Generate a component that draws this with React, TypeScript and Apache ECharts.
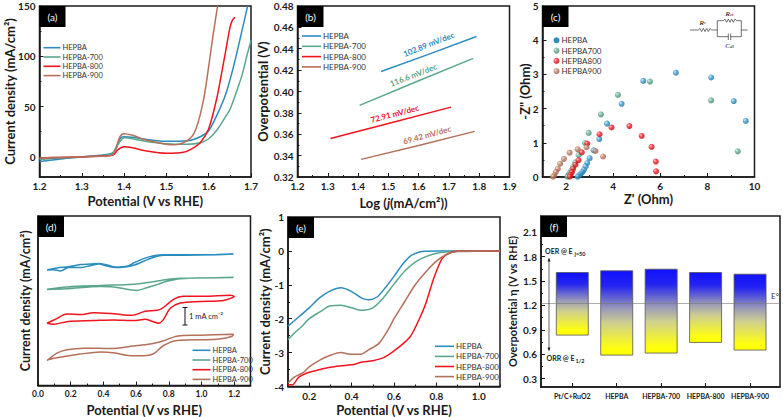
import React, { useEffect, useRef } from "react";
import * as echarts from "echarts";

const FONT = "Lato";
const BLUE = "#2b8cbe";
const GREEN = "#5aa78e";
const RED = "#f0141e";
const BROWN = "#b5705a";
const INK = "#1a1a1a";

const legendNames = ["HEPBA", "HEPBA-700", "HEPBA-800", "HEPBA-900"];
const legendNamesC = ["HEPBA", "HEPBA700", "HEPBA800", "HEPBA900"];
const colors = [BLUE, GREEN, RED, BROWN];

const oerHepba = [[1.2,-4.5],[1.25,-2],[1.3,0],[1.35,2],[1.37,3.5],[1.38,7],[1.39,18],[1.4,20],[1.42,19.5],[1.45,17.5],[1.5,15.5],[1.55,16],[1.58,20],[1.6,26],[1.62,42],[1.64,62],[1.66,92],[1.68,128],[1.692,150]];
const oer700 = [[1.2,-2.5],[1.25,-1],[1.3,0],[1.35,1.5],[1.37,2.5],[1.385,12],[1.4,19],[1.42,18],[1.45,15.5],[1.5,13],[1.55,12.5],[1.58,14],[1.6,18],[1.62,27],[1.64,40],[1.65,47],[1.66,58],[1.67,70],[1.68,83],[1.69,100],[1.7,116]];
const oer800 = [[1.2,-1],[1.25,-0.5],[1.3,0],[1.35,0.8],[1.375,2],[1.385,7],[1.4,10],[1.42,9],[1.45,6],[1.5,3.5],[1.54,4.5],[1.56,8],[1.58,14],[1.6,28],[1.62,60],[1.63,82],[1.64,105],[1.65,128],[1.655,135],[1.662,139]];
const oer900 = [[1.2,-1],[1.3,0],[1.35,0.8],[1.37,1.5],[1.38,8],[1.39,20],[1.4,23],[1.42,21.5],[1.45,17],[1.5,12.5],[1.52,12],[1.54,14],[1.56,20],[1.57,28],[1.58,42],[1.59,62],[1.6,90],[1.61,120],[1.621,150]];

const tafelHepba = [[1.476,0.4187],[1.63,0.4345],[1.791,0.4514]];
const tafel700 = [[1.405,0.387],[1.6,0.41],[1.78,0.431]];
const tafel800 = [[1.309,0.356],[1.5,0.37],[1.707,0.3854]];
const tafel900 = [[1.41,0.3365],[1.6,0.3495],[1.785,0.3627]];

const eisHepba = [[9.63,1.64],[9.12,2.22],[8.16,2.91],[6.66,3.05],[5.28,2.81],[4.36,2.14],[3.74,1.56],[3.41,1.11],[3.17,0.78],[3.0,0.55],[2.9,0.41],[2.83,0.31],[2.76,0.21],[2.69,0.14],[2.62,0.09],[2.55,0.05],[2.49,0.01]];
const eis700 = [[9.29,0.75],[8.16,2.24],[5.56,2.79],[4.2,2.4],[3.48,1.83],[2.96,1.29],[2.81,0.99],[2.53,0.64],[2.39,0.43],[2.29,0.29],[2.22,0.19],[2.16,0.12],[2.1,0.05],[2.06,0.01]];
const eis800 = [[5.82,0.165],[5.81,0.45],[5.63,0.88],[5.21,1.2],[4.69,1.49],[3.93,1.45],[3.42,1.25],[2.9,0.98],[2.67,0.72],[2.53,0.49],[2.4,0.36],[2.3,0.24],[2.25,0.14],[2.19,0.06],[2.16,0.01]];
const eis900 = [[3.57,0.6],[3.25,0.76],[2.87,0.87],[2.49,0.81],[2.15,0.71],[1.91,0.53],[1.75,0.39],[1.65,0.24],[1.57,0.15],[1.5,0.05],[1.45,0.01]];

const cvHepba = [[0.055,6.58],[0.116,6.7],[0.187,6.77],[0.259,6.89],[0.32,6.92],[0.371,6.96],[0.422,6.87],[0.473,6.75],[0.544,6.79],[0.585,6.98],[0.646,7.23],[0.707,7.4],[0.768,7.45],[0.89,7.45],[1.094,7.47],[1.196,7.49],[1.094,7.45],[0.89,7.43],[0.768,7.42],[0.717,7.34],[0.646,7.08],[0.585,6.85],[0.544,6.77],[0.473,6.72],[0.422,6.81],[0.371,6.92],[0.32,6.83],[0.259,6.72],[0.187,6.72],[0.137,6.53],[0.096,6.6],[0.055,6.58]];
const cv700 = [[0.055,5.49],[0.177,5.62],[0.381,5.7],[0.585,5.77],[0.687,5.89],[0.789,6.04],[0.87,6.11],[1.196,6.15],[0.87,6.09],[0.789,5.94],[0.727,5.75],[0.666,5.57],[0.605,5.42],[0.544,5.49],[0.463,5.62],[0.381,5.64],[0.177,5.51],[0.055,5.47]];
const cv800 = [[0.055,3.55],[0.106,3.77],[0.177,4.08],[0.259,4.04],[0.34,4.15],[0.463,4.09],[0.575,4.0],[0.656,4.23],[0.748,4.34],[0.829,4.91],[0.89,5.08],[1.033,5.09],[1.176,5.15],[1.2,5.08],[1.135,4.85],[0.992,4.79],[0.87,4.7],[0.809,4.4],[0.768,3.77],[0.738,3.55],[0.697,3.66],[0.656,3.77],[0.585,3.7],[0.463,3.74],[0.34,3.7],[0.177,3.64],[0.096,3.49],[0.055,3.55]];
const cv900 = [[0.055,1.42],[0.116,1.85],[0.177,2.04],[0.279,2.13],[0.442,2.11],[0.585,2.25],[0.687,2.36],[0.768,2.55],[0.85,2.81],[0.992,2.87],[1.196,2.92],[1.186,2.79],[1.094,2.64],[0.85,2.57],[0.768,2.28],[0.707,1.81],[0.646,1.7],[0.564,1.7],[0.473,1.85],[0.381,1.91],[0.259,1.79],[0.116,1.58],[0.055,1.45]];

const orrHepba = [[0.1,-2.22],[0.15,-1.95],[0.2,-1.68],[0.25,-1.38],[0.3,-1.18],[0.35,-1.09],[0.4,-1.2],[0.45,-1.4],[0.48,-1.44],[0.52,-1.36],[0.56,-1.08],[0.6,-0.75],[0.64,-0.4],[0.68,-0.14],[0.72,-0.03],[0.76,-0.01],[0.8,0],[1.1,0]];
const orr700 = [[0.1,-2.62],[0.13,-2.42],[0.17,-2.2],[0.2,-2.0],[0.25,-1.8],[0.3,-1.62],[0.35,-1.6],[0.4,-1.68],[0.45,-1.75],[0.5,-1.68],[0.55,-1.38],[0.6,-0.98],[0.65,-0.6],[0.7,-0.33],[0.75,-0.17],[0.8,-0.07],[0.85,-0.03],[0.9,-0.01],[1.1,0]];
const orr800 = [[0.1,-3.95],[0.12,-3.95],[0.15,-3.73],[0.2,-3.58],[0.25,-3.5],[0.3,-3.43],[0.35,-3.39],[0.4,-3.36],[0.45,-3.28],[0.5,-3.24],[0.55,-3.15],[0.6,-2.95],[0.65,-2.7],[0.68,-2.5],[0.72,-2.0],[0.75,-1.55],[0.78,-0.95],[0.8,-0.6],[0.83,-0.2],[0.87,-0.04],[0.9,-0.01],[1.1,0]];
const orr900 = [[0.1,-3.9],[0.13,-3.72],[0.17,-3.6],[0.2,-3.42],[0.25,-3.22],[0.3,-3.08],[0.35,-3.0],[0.37,-3.02],[0.4,-3.05],[0.44,-3.05],[0.48,-2.92],[0.53,-2.72],[0.57,-2.35],[0.6,-2.0],[0.65,-1.5],[0.7,-1.0],[0.75,-0.62],[0.8,-0.3],[0.85,-0.1],[0.9,-0.02],[1.1,0]];

const catalysts = ["Pt/C+RuO2", "HEPBA", "HEPBA-700", "HEPBA-800", "HEPBA-900"];
const catalystPositions = [1, 2, 3, 4, 5];
const oerPotential = [1.605, 1.626, 1.646, 1.605, 1.585];
const orrPotential = [0.836, 0.59, 0.615, 0.746, 0.652];
const equilibriumPotential = 1.225;

// Panel frames, in page pixels: left, top, right, bottom.
const frames = [
  [39.5, 6, 251, 177],
  [297.5, 6, 509.5, 177],
  [542.5, 6, 754.5, 177],
  [38, 216, 250.5, 387],
  [288, 217, 500, 387],
  [541, 216, 780, 387],
];

type AxisSpec = {
  grid: number; dim: "x" | "y"; min: number; max: number; majors: number[]; minors: number[];
  name?: string; gap?: number; dec?: number; size?: number; nameSize?: number; rich?: any;
  fmt?: (v: number) => string; margin?: number; noLabels?: boolean;
};

function makeAxes(s: AxisSpec) {
  const pos = s.dim === "x" ? "bottom" : "left";
  const base = { type: "value", gridIndex: s.grid, min: s.min, max: s.max, position: pos, splitLine: { show: false }, scale: false };
  return [
    {
      ...base,
      name: s.name,
      nameLocation: "middle",
      nameGap: s.gap,
      nameMoveOverlap: false,
      nameTextStyle: { fontFamily: FONT, fontWeight: "bold", fontSize: s.nameSize ?? 13, color: INK, rich: s.rich },
      axisLine: { show: true, onZero: false, lineStyle: { color: INK, width: 1.5 } },
      axisTick: { show: true, inside: true, length: 4, customValues: s.majors, lineStyle: { color: INK, width: 1 } },
      axisLabel: {
        show: !s.noLabels, customValues: s.majors, margin: s.margin ?? 4, hideOverlap: false, showMinLabel: true, showMaxLabel: true,
        fontFamily: FONT, fontWeight: "bold", fontSize: s.size ?? 10, color: INK,
        formatter: s.fmt ?? ((v: number) => v.toFixed(s.dec ?? 0)),
      },
    },
    {
      ...base,
      axisLine: { show: false, onZero: false },
      axisTick: { show: true, inside: true, length: 2, customValues: s.minors, lineStyle: { color: INK, width: 1 } },
      axisLabel: { show: false },
    },
  ];
}

const xAxisSpecs: AxisSpec[] = [
  { grid: 0, dim: "x", min: 1.2, max: 1.7, dec: 1, majors: [1.2,1.3,1.4,1.5,1.6,1.7], minors: [1.25,1.35,1.45,1.55,1.65], name: "Potential (V vs RHE)", gap: 17.5 },
  { grid: 1, dim: "x", min: 1.2, max: 1.9, dec: 1, majors: [1.2,1.3,1.4,1.5,1.6,1.7,1.8,1.9], minors: [1.25,1.35,1.45,1.55,1.65,1.75,1.85], name: "Log ({i|j}(mA/cm²))", gap: 19, rich: { i: { fontStyle: "italic", fontFamily: FONT, fontWeight: "bold", fontSize: 13, color: INK } } },
  { grid: 2, dim: "x", min: 1, max: 10, majors: [2,4,6,8,10], minors: [1,3,5,7,9], name: "Z' (Ohm)", gap: 15 },
  { grid: 3, dim: "x", min: 0, max: 1.3, dec: 1, size: 8.5, majors: [0,0.2,0.4,0.6,0.8,1.0,1.2], minors: [0.1,0.3,0.5,0.7,0.9,1.1,1.3], name: "Potential (V vs RHE)", gap: 17.5 },
  { grid: 4, dim: "x", min: 0.1, max: 1.1, dec: 1, majors: [0.2,0.4,0.6,0.8,1.0], minors: [0.1,0.3,0.5,0.7,0.9,1.1], name: "Potential (V vs RHE)", gap: 16.5 },
  { grid: 5, dim: "x", min: 0.296, max: 5.674, size: 7, majors: catalystPositions, minors: [], margin: 5, fmt: (v: number) => catalysts[Math.round(v) - 1] ?? "" },
];
const yAxisSpecs: AxisSpec[] = [
  { grid: 0, dim: "y", min: -20, max: 150, majors: [0,50,100,150], minors: [25,75,125], name: "Current density (mA/cm²)", gap: 23 },
  { grid: 1, dim: "y", min: 0.32, max: 0.48, dec: 2, majors: [0.32,0.34,0.36,0.38,0.4,0.42,0.44,0.46,0.48], minors: [0.33,0.35,0.37,0.39,0.41,0.43,0.45,0.47], name: "Overpotential (V)", gap: 28 },
  { grid: 2, dim: "y", min: 0, max: 5, majors: [0,1,2,3,4,5], minors: [0.5,1.5,2.5,3.5,4.5], name: '-Z" (Ohm)', gap: 11 },
  { grid: 3, dim: "y", min: 0, max: 9.66, majors: [], minors: [], noLabels: true, name: "Current density (mA/cm²)", gap: 6.5, nameSize: 12.5 },
  { grid: 4, dim: "y", min: -4, max: 1, majors: [-4,-3,-2,-1,0,1], minors: [-3.5,-2.5,-1.5,-0.5,0.5], name: "Current density (mA/cm²)", gap: 17 },
  { grid: 5, dim: "y", min: 0.198, max: 2.3, dec: 1, majors: [0.3,0.6,0.9,1.2,1.5,1.8,2.1], minors: [0.45,0.75,1.05,1.35,1.65,1.95,2.25], name: "Overpotential η (V vs RHE)", gap: 23, nameSize: 11 },
];

function lineSeries(grid: number, name: string, color: string, data: number[][], smooth: number | boolean) {
  return {
    type: "line", name, data, smooth, symbol: "none", animation: false,
    xAxisIndex: grid * 2, yAxisIndex: grid * 2,
    lineStyle: { color, width: 1.5 }, itemStyle: { color },
  };
}

const ballStops: Record<string, string[]> = {
  [BLUE]: ["#c5e6f5", "#2f93c8", "#1b6a97"],
  [GREEN]: ["#cfe9df", "#5aa78e", "#3a7e68"],
  [RED]: ["#ffb0b0", "#f0141e", "#b80c12"],
  [BROWN]: ["#eed3c8", "#b9765f", "#8c5240"],
};

function scatterSeries(name: string, color: string, data: number[][]) {
  const s = ballStops[color];
  return {
    type: "scatter", name, data, symbol: "circle", symbolSize: 6, animation: false,
    xAxisIndex: 4, yAxisIndex: 4,
    itemStyle: {
      color: new echarts.graphic.RadialGradient(0.35, 0.35, 0.75, [
        { offset: 0, color: s[0] }, { offset: 0.45, color: s[1] }, { offset: 1, color: s[2] },
      ]),
    },
  };
}

function legendBlock(names: string[], left: number, firstRow: number, rowGap: number, width: number, size: number, lineKey = true) {
  const rowH = 8;
  return {
    show: true, orient: "vertical", data: names, left, top: firstRow - rowH / 2, padding: 0,
    icon: lineKey ? "rect" : "circle",
    itemWidth: width, itemHeight: lineKey ? 1.6 : 6, itemGap: rowGap - rowH,
    selectedMode: false,
    textStyle: { fontFamily: FONT, fontSize: size, lineHeight: rowH, color: "#333", padding: [0, 0, 0, -3] },
  };
}

function panelTag(label: string, i: number) {
  const [l, t] = frames[i];
  return [
    { type: "rect", shape: { x: l, y: t, width: 26, height: 21 }, style: { fill: "#000" }, silent: true, z: 20 },
    { type: "text", x: l + 13, y: t + 10.5, z: 21, style: { text: label, fill: "#fff", fontFamily: FONT, fontSize: 10, align: "center", verticalAlign: "middle" } },
  ];
}

function note(text: string, x: number, y: number, color: string, deg = 0, size = 8, weight: any = "bold", align: any = "center") {
  return {
    type: "text", x, y, rotation: (deg * Math.PI) / 180, z: 15,
    style: { text, fill: color, fontFamily: FONT, fontSize: size, fontWeight: weight, align, verticalAlign: "middle" },
  };
}

function wire(points: number[][]) {
  return { type: "polyline", shape: { points }, z: 15, silent: true, style: { stroke: "#333", lineWidth: 0.7, fill: "none" } };
}

function zigzag(x0: number, x1: number, y: number, teeth: number) {
  const pts: number[][] = [[x0, y]];
  const step = (x1 - x0) / (teeth * 2);
  for (let i = 1; i < teeth * 2; i++) pts.push([x0 + i * step, y + (i % 2 ? -1.6 : 1.6)]);
  pts.push([x1, y]);
  return pts;
}

function circuit() {
  const sub = { a: { fontFamily: "Liberation Serif", fontStyle: "italic", fontSize: 7, color: "#333" }, b: { fontFamily: "Liberation Serif", fontStyle: "italic", fontSize: 5, color: "#333" } };
  const lbl = (t: string, x: number, y: number) => ({ type: "text", x, y, z: 15, style: { text: t, rich: sub, align: "center", verticalAlign: "middle" } });
  return [
    wire([[690, 30], [698.3, 30]]), wire(zigzag(698.3, 711.7, 30, 4)), wire([[711.7, 30], [717.3, 30]]),
    wire([[717.3, 30], [717.3, 20.7], [723.3, 20.7]]), wire(zigzag(723.3, 736.7, 20.7, 4)), wire([[736.7, 20.7], [741.3, 20.7], [741.3, 36.7], [730.7, 36.7]]),
    wire([[717.3, 30], [717.3, 36.7], [728.3, 36.7]]), wire([[728.3, 33.5], [728.3, 40]]), wire([[730.7, 33.5], [730.7, 40]]),
    wire([[741.3, 30], [747.7, 30]]),
    lbl("{a|R}{b|s}", 702.5, 22.5), lbl("{a|R}{b|ct}", 729.5, 14.3), lbl("{a|C}{b|dl}", 729.5, 46),
  ];
}

function scaleBar() {
  const s = { stroke: "#111", lineWidth: 1 };
  return [
    { type: "line", shape: { x1: 185, y1: 307.5, x2: 185, y2: 325 }, style: s, z: 15 },
    { type: "line", shape: { x1: 182.5, y1: 307.5, x2: 187.5, y2: 307.5 }, style: s, z: 15 },
    { type: "line", shape: { x1: 182.5, y1: 325, x2: 187.5, y2: 325 }, style: s, z: 15 },
    note("1 mA cm⁻²", 189, 316.5, "#222", 0, 7.5, "normal", "left"),
  ];
}

function arrowNotes() {
  const s = { stroke: "#222", lineWidth: 0.7 };
  return [
    note("OER @ E", 545, 251, "#222", 0, 7, "bold", "left"),
    note("j=50", 574.5, 253.5, "#222", 0, 5.5, "bold", "left"),
    note("ORR @ E", 546.5, 357.5, "#222", 0, 7, "bold", "left"),
    note("1/2", 575.5, 360.5, "#222", 0, 5.5, "bold", "left"),
    { type: "line", shape: { x1: 549, y1: 259, x2: 549, y2: 350 }, style: s, z: 15 },
    { type: "polygon", shape: { points: [[549, 257.5], [547.5, 261.5], [550.5, 261.5]] }, style: { fill: "#222" }, z: 15 },
    { type: "polygon", shape: { points: [[549, 351.5], [547.5, 347.5], [550.5, 347.5]] }, style: { fill: "#222" }, z: 15 },
    note("E°", 775, 296, "#333", 0, 8, "normal"),
  ];
}

const W = 783;
const H = 417;

export default function App() {
  const ref = useRef<HTMLDivElement>(null);
  useEffect(() => {
    if (!ref.current) return;
    const chart = echarts.init(ref.current, undefined, { renderer: "svg" });
    const barFill = () => new echarts.graphic.LinearGradient(0, 0, 0, 1, [
      { offset: 0, color: "#1010ff" },
      { offset: 0.18, color: "#2424f0" },
      { offset: 0.45, color: "#9a9ab8" },
      { offset: 0.62, color: "#cfcf90" },
      { offset: 0.92, color: "#ffff10" },
      { offset: 1, color: "#ffff00" },
    ]);
    chart.setOption({
      animation: false,
      backgroundColor: "#fff",
      grid: frames.map(([l, t, r, b]) => ({
        show: true, left: l, top: t, width: r - l, height: b - t, borderColor: INK, borderWidth: 1.5, backgroundColor: "transparent", containLabel: false,
      })),
      xAxis: xAxisSpecs.flatMap(makeAxes),
      yAxis: yAxisSpecs.flatMap(makeAxes),
      legend: [
        legendBlock(legendNames, 43.5, 47.7, 9.3, 17, 7.5),
        legendBlock(legendNames, 302, 36, 10.3, 19, 8),
        legendBlock(legendNamesC, 553.5, 40.3, 10.3, 6, 8, false),
        legendBlock(legendNames, 192.5, 350.3, 9.7, 18, 7.5),
        legendBlock(legendNames, 435, 346.3, 10.1, 19, 8),
      ],
      series: [
        ...[oerHepba, oer700, oer800, oer900].map((d, i) => lineSeries(0, legendNames[i], colors[i], d, 0.3)),
        ...[tafelHepba, tafel700, tafel800, tafel900].map((d, i) => lineSeries(1, legendNames[i], colors[i], d, false)),
        ...[eisHepba, eis700, eis800, eis900].map((d, i) => scatterSeries(legendNamesC[i], colors[i], d)),
        ...[cvHepba, cv700, cv800, cv900].map((d, i) => lineSeries(3, legendNames[i], colors[i], d, 0.3)),
        ...[orrHepba, orr700, orr800, orr900].map((d, i) => lineSeries(4, legendNames[i], colors[i], d, 0.3)),
        {
          type: "custom", xAxisIndex: 10, yAxisIndex: 10, animation: false,
          encode: { x: 0, y: [1, 2] },
          data: catalystPositions.map((x, i) => [x, orrPotential[i], oerPotential[i]]),
          renderItem: (_p: any, api: any) => {
            const [cx, y0] = api.coord([api.value(0), api.value(1)]);
            const [, y1] = api.coord([api.value(0), api.value(2)]);
            return {
              type: "rect",
              shape: { x: cx - 16, y: y1, width: 32, height: y0 - y1 },
              style: { fill: barFill(), stroke: "#555", lineWidth: 0.8 },
            };
          },
          markLine: {
            silent: true, symbol: "none", label: { show: false }, animation: false,
            lineStyle: { color: "#777", width: 0.8, type: "solid", opacity: 0.75 },
            data: [{ yAxis: equilibriumPotential }],
          },
        },
      ],
      graphic: [
        ...["(a)", "(b)", "(c)", "(d)", "(e)", "(f)"].flatMap(panelTag),
        note("102.89 mV/dec", 428.7, 44.3, BLUE, 21.5),
        note("116.6 mV/dec", 413.3, 75, GREEN, 21),
        note("72.91 mV/dec", 394.7, 113.7, RED, 14.7),
        note("69.42 mV/dec", 427, 135, BROWN, 15.6),
        ...circuit(),
        ...scaleBar(),
        ...arrowNotes(),
      ],
    });
    return () => chart.dispose();
  }, []);
  return <div ref={ref} style={{ position: "fixed", left: 0, top: 0, width: W, height: H, background: "#fff" }} />;
}
